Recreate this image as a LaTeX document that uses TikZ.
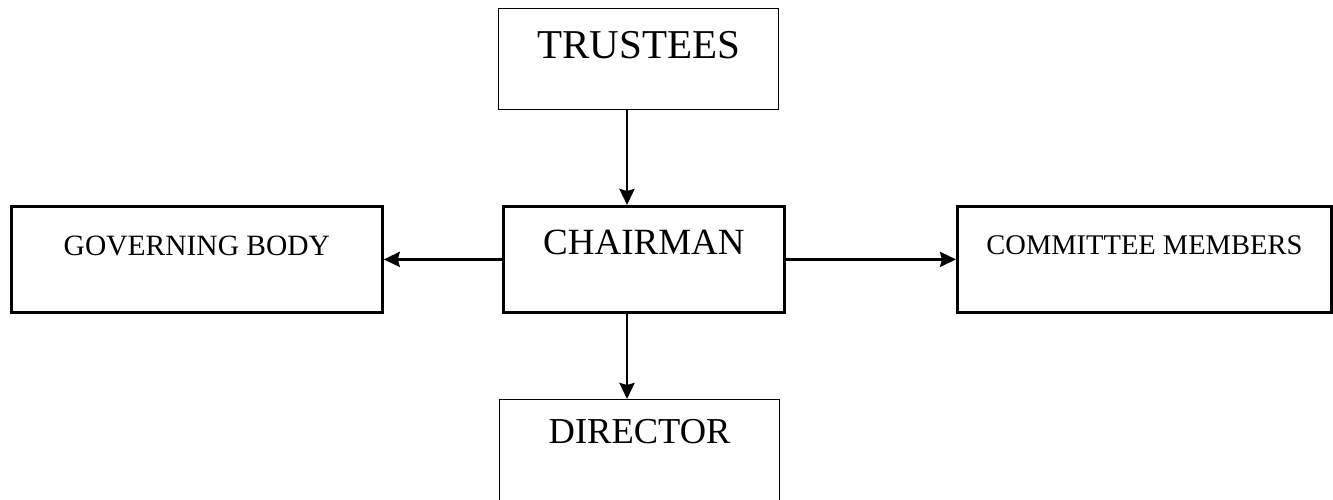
\documentclass[tikz,border=0pt]{standalone}
\usepackage{fontspec}
\setmainfont{Liberation Serif}
\usetikzlibrary{arrows.meta}
\tikzset{
  box/.style={draw, rectangle, inner sep=0pt, anchor=north west, line width=2.8pt},
  thinbox/.style={box, line width=1.3pt},
  link/.style={line width=2.8pt}
}
\begin{document}
\begin{tikzpicture}[>={Stealth[inset=2pt,length=16pt,width=15pt]},x=1pt,y=-1pt]
	\useasboundingbox (0,0) rectangle (1333,500);
	%Khung tren
	\node[thinbox, minimum width=280pt, text height=50pt, text depth=51pt,
	  font=\fontsize{41pt}{48pt}\selectfont] (trustees) at (498,8) {TRUSTEES};
	%Khung giua
	\node[box, minimum width=281pt, text height=48pt, text depth=58pt,
	  font=\fontsize{37pt}{44pt}\selectfont] (chairman) at (502,205) {CHAIRMAN};
	%Khung trai
	\node[box, minimum width=371pt, text height=49pt, text depth=57pt,
	  font=\fontsize{29.5pt}{35pt}\selectfont] (govbody) at (10,205) {GOVERNING BODY};
	%Khung phai
	\node[box, minimum width=374pt, text height=48pt, text depth=58pt,
	  font=\fontsize{28.5pt}{34pt}\selectfont] (members) at (956,205) {COMMITTEE MEMBERS};
	%Khung duoi
	\node[thinbox, minimum width=280pt, text height=44pt, text depth=60pt,
	  font=\fontsize{36.5pt}{43pt}\selectfont] (director) at (499,399) {DIRECTOR};
	%Mui ten
	\coordinate (spine) at (627,0);
	\draw[link,->] (trustees.south -| spine) -- (chairman.north -| spine);
	\draw[link,->] (chairman.west) -- (govbody.east);
	\draw[link,->] (chairman.east) -- (members.west);
	\draw[link,->] (chairman.south -| spine) -- (director.north -| spine);
\end{tikzpicture}
\end{document}
